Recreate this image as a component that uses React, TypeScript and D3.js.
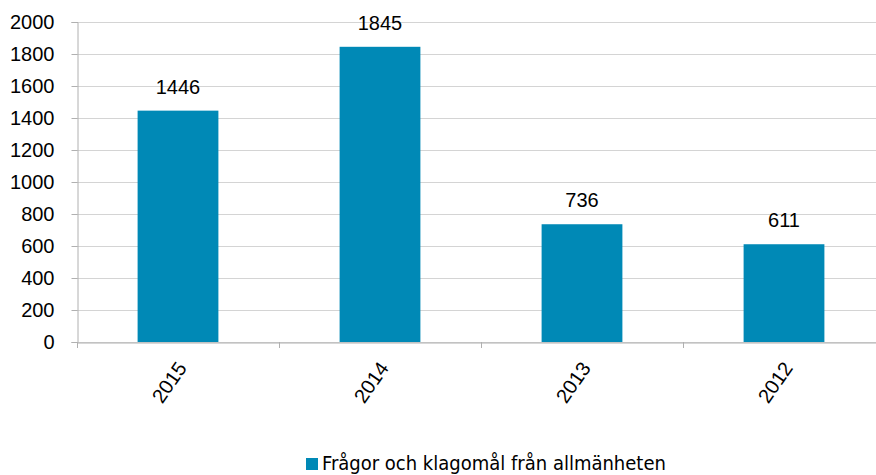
import React, { useEffect, useRef } from 'react';
import * as d3 from 'd3';

const years = ['2015', '2014', '2013', '2012'];
const counts = [1446, 1845, 736, 611];
const yTicks = [0, 200, 400, 600, 800, 1000, 1200, 1400, 1600, 1800, 2000];
const seriesName = 'Frågor och klagomål från allmänheten';

const App: React.FC = () => {
  const svgRef = useRef<SVGSVGElement>(null);

  useEffect(() => {
    if (!svgRef.current) return;
    const svg = d3.select(svgRef.current);
    svg.selectAll('*').remove();

    const left = 77;
    const top = 22;
    const bottom = 342;
    const step = 202;
    const font = '"Liberation Sans", Arial, sans-serif';
    const color = '#0089b6';

    const x = d3.scaleBand<string>()
      .domain(years)
      .range([left, left + step * years.length])
      .padding(0);
    const y = d3.scaleLinear().domain([0, 2000]).range([bottom, top]);

    // gridlines
    svg.append('g')
      .selectAll('line')
      .data(yTicks)
      .enter()
      .append('line')
      .attr('x1', left)
      .attr('x2', 876)
      .attr('y1', d => y(d) + 0.5)
      .attr('y2', d => y(d) + 0.5)
      .attr('stroke', '#d4d4d4')
      .attr('stroke-width', 1);

    // y axis
    const yAxis = svg.append('g')
      .attr('transform', `translate(${left + 0.5},0)`)
      .call(d3.axisLeft(y).tickValues(yTicks).tickSize(6).tickPadding(17).tickFormat(d3.format('d')));
    yAxis.select('.domain').attr('stroke', '#b0b0b0');
    yAxis.selectAll('.tick line').attr('stroke', '#b0b0b0');
    yAxis.selectAll('.tick text')
      .attr('font-family', font)
      .attr('font-size', 20)
      .attr('fill', '#000');

    // bars
    const barW = x.bandwidth() * 0.4;
    svg.append('g')
      .selectAll('rect')
      .data(counts)
      .enter()
      .append('rect')
      .attr('x', (d, i) => (x(years[i]) || 0) + (x.bandwidth() - barW) / 2)
      .attr('y', d => y(d))
      .attr('width', barW)
      .attr('height', d => bottom - y(d))
      .attr('fill', color);

    // x axis
    const xAxis = svg.append('g')
      .attr('transform', `translate(0,${bottom + 0.5})`)
      .call(d3.axisBottom(x).tickSize(0).tickFormat(() => ''));
    xAxis.select('.domain').attr('stroke', '#b0b0b0');
    xAxis.selectAll('.tick').remove();

    // category separators
    svg.append('g')
      .selectAll('line')
      .data(d3.range(years.length + 1))
      .enter()
      .append('line')
      .attr('x1', i => left + i * step + 0.5)
      .attr('x2', i => left + i * step + 0.5)
      .attr('y1', bottom)
      .attr('y2', bottom + 6)
      .attr('stroke', '#b0b0b0');

    // rotated year labels
    svg.append('g')
      .selectAll('text')
      .data(years)
      .enter()
      .append('text')
      .attr('transform', d => `translate(${(x(d) || 0) + x.bandwidth() / 2 + 4},${bottom + 22}) rotate(-55)`)
      .attr('text-anchor', 'end')
      .attr('dy', '0.35em')
      .attr('font-family', font)
      .attr('font-size', 20)
      .attr('fill', '#000')
      .text(d => d);

    // value labels
    svg.append('g')
      .selectAll('text')
      .data(counts)
      .enter()
      .append('text')
      .attr('x', (d, i) => (x(years[i]) || 0) + x.bandwidth() / 2)
      .attr('y', d => y(d) - 17)
      .attr('text-anchor', 'middle')
      .attr('font-family', font)
      .attr('font-size', 20)
      .attr('fill', '#000')
      .text(d => d);

    // legend
    const legend = svg.append('g');
    legend.append('rect')
      .attr('x', 306)
      .attr('y', 458)
      .attr('width', 12)
      .attr('height', 12)
      .attr('fill', color);
    legend.append('text')
      .attr('x', 322)
      .attr('y', 470)
      .attr('font-family', '"Liberation Sans Narrow", "DejaVu Sans Condensed", sans-serif')
      .attr('font-size', 20)
      .attr('fill', '#000')
      .text(seriesName);
  }, []);

  return (
    <svg
      ref={svgRef}
      width={876}
      height={475}
      style={{ position: 'absolute', left: 0, top: 0, background: '#fff' }}
    />
  );
};

export default App;
